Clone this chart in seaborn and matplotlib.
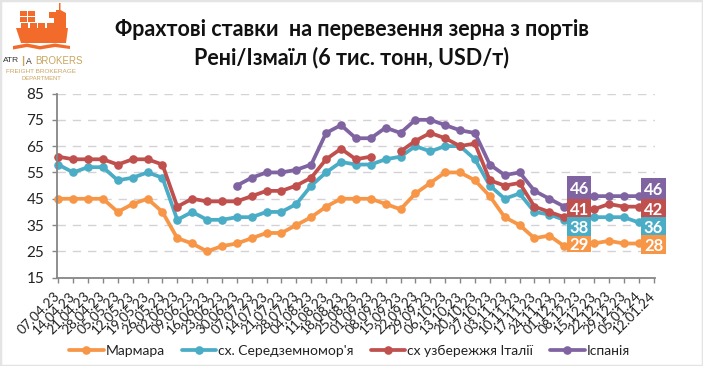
import numpy as np
import pandas as pd
import matplotlib
matplotlib.use("Agg")
import matplotlib.pyplot as plt
from matplotlib.patches import Polygon, Rectangle
from matplotlib.lines import Line2D
import seaborn as sns

dates = ["07.04.23","14.04.23","21.04.23","28.04.23","05.05.23","12.05.23","19.05.23","26.05.23",
         "02.06.23","09.06.23","16.06.23","23.06.23","30.06.23","07.07.23","14.07.23","21.07.23",
         "28.07.23","04.08.23","11.08.23","18.08.23","25.08.23","01.09.23","08.09.23","15.09.23",
         "22.09.23","29.09.23","06.10.23","13.10.23","20.10.23","27.10.23","03.11.23","10.11.23",
         "17.11.23","24.11.23","01.12.23","08.12.23","15.12.23","22.12.23","29.12.23","05.01.24","12.01.24"]
n = np.nan
marmara = [45,45,45,45,40,43,45,40,30,28,25,27,28,30,32,32,35,38,42,45,45,45,43,41,47,51,55,55,52,46,38,35,30,31,27,29,28,29,28,28,28]
seredz  = [58,55,57,57,52,53,55,53,37,40,37,37,38,38,40,40,43,50,55,59,58,58,60,61,65,63,65,65,60,50,45,47,40,39,37,38,38,38,38,36,36]
italy   = [61,60,60,60,58,60,60,58,42,45,44,44,44,46,48,48,50,53,60,64,60,61,n,63,67,70,68,65,66,52,50,51,42,40,38,41,41,43,42,42,42]
spain   = [n,n,n,n,n,n,n,n,n,n,n,n,50,53,55,55,56,58,70,73,68,68,72,70,75,75,73,71,70,58,54,55,48,45,42,46,46,46,46,46,46]
names = ["Мармара", "сх. Середземномор'я", "сх узбережжя Італії", "Іспанія"]
colors = ["#F79646", "#4BACC6", "#C0504D", "#8064A2"]
series = [marmara, seredz, italy, spain]
yticks = [15,25,35,45,55,65,75,85]
title = "Фрахтові ставки  на перевезення зерна з портів\nРені/Ізмаїл (6 тис. тонн, USD/т)"

W, H = 703, 366
sns.set_theme(style="white")
FONT = ["Lato", "Open Sans", "DejaVu Sans"]
plt.rcParams["font.family"] = FONT

rows = []
for name, vals in zip(names, series):
    v = pd.Series(vals, dtype=float)
    seg = v.isna().cumsum()
    rows.append(pd.DataFrame({"i": np.arange(len(v)), "v": v, "series": name, "seg": seg}).dropna())
df = pd.concat(rows, ignore_index=True)

fig = plt.figure(figsize=(W/100, H/100), dpi=100, facecolor="white")
def px_axes(x0, y0, x1, y1, **kw):
    return fig.add_axes([x0/W, 1-y1/H, (x1-x0)/W, (y1-y0)/H], **kw)

ax = px_axes(57.5, 93.5, 655, 277.7)
sns.lineplot(data=df, x="i", y="v", hue="series", hue_order=names, palette=colors,
             units="seg", estimator=None, marker="o", markersize=6.2, markeredgewidth=0,
             linewidth=2.7, legend=False, ax=ax, clip_on=False)
ax.set_xlim(0-0.05, 40.1)
ax.set_ylim(15, 85)
ax.set_xlabel(""); ax.set_ylabel("")
ax.set_yticks(yticks)
ax.set_xticks(range(len(dates)))
ax.set_xticklabels(dates, rotation=45, ha="right", va="center", rotation_mode="anchor", fontsize=9.8, color="#222222")
ax.tick_params(axis="x", length=3.5, width=1, color="#868686", pad=8, bottom=True)
ax.tick_params(axis="y", length=3.5, width=1, color="#868686", labelsize=11, labelcolor="#222222", pad=6, left=True)
ax.grid(True, axis="y", color="#D4D2D8", linewidth=1, linestyle=(0, (6, 5)))
ax.set_axisbelow(True)
for s in ["top", "right"]:
    ax.spines[s].set_visible(False)
for s in ["left", "bottom"]:
    ax.spines[s].set_color("#868686")
    ax.spines[s].set_linewidth(1.3)

def label(idx, vals, color, y0, y1, x_half):
    xc, _ = ax.transData.transform((idx, vals[idx]))
    inv = fig.transFigure.inverted()
    (fx0, fy1), (fx1, fy0) = inv.transform((xc-x_half, H-y0)), inv.transform((xc+x_half, H-y1))
    fig.add_artist(Rectangle((fx0, fy0), fx1-fx0, fy1-fy0, transform=fig.transFigure,
                             facecolor=color, edgecolor="none", zorder=5))
    fig.text((fx0+fx1)/2, (fy0+fy1)/2, f"{vals[idx]:.0f}", color="white", fontweight="bold",
             fontsize=12, ha="center", va="center_baseline", zorder=6)

bands_a = [(series[3], colors[3], 175.7, 199.3), (series[2], colors[2], 199.3, 217),
           (series[1], colors[1], 217, 235.7), (series[0], colors[0], 235.7, 252.3)]
bands_b = [(series[3], colors[3], 177.7, 199.3), (series[2], colors[2], 199.3, 217.3),
           (series[1], colors[1], 217.3, 235), (series[0], colors[0], 235, 254)]
for vals, c, a, b in bands_a:
    label(35, vals, c, a, b, 12)
for vals, c, a, b in bands_b:
    label(40, vals, c, a, b, 12.3)

handles = [Line2D([], [], color=c, lw=2.7, marker="o", ms=6.2, mew=0) for c in colors]
leg = fig.legend(handles, names, ncols=4, loc="center", bbox_to_anchor=(349.5/W, 1-351/H), frameon=False,
                 fontsize=10, handlelength=2.5, handletextpad=0.15, columnspacing=1.2, labelcolor="#222222",
                 borderpad=0, borderaxespad=0)

t1, t2 = title.split("\n")
fig.text(352/W, 1-30/H, t1, ha="center", va="center", fontsize=15.5, fontweight="bold", color="#111111")
fig.text(352/W, 1-58/H, t2, ha="center", va="center", fontsize=15.5, fontweight="bold", color="#111111")

lg = px_axes(0, 0, 90, 85)
lg.set_xlim(0, 90); lg.set_ylim(85, 0); lg.axis("off")
o = "#F26B2B"
gold = "#C9A45F"
lg.add_patch(Polygon([(16,28),(68,28),(66,43),(21,43)], fc=o, ec="none"))
lg.add_patch(Polygon([(13,46),(27,43.5),(40,46),(55,43.5),(70,46),(70,49),(55,47),(40,49.5),(27,47),(13,49.5)], fc=o, ec="none"))
for x0, y0 in [(20,11),(28,11),(20,17),(28,17),(21,23),(30,23),(38,23),(47,23)]:
    lg.add_patch(Rectangle((x0, y0), 7, 4.5, fc=o, ec="none"))
lg.add_patch(Polygon([(49,12),(56,12),(56,10),(59,10),(59,3),(60.5,3),(60.5,10),(66,13),(66,28),(54,28),(54,18),(49,18)], fc=o, ec="none"))
lf = ["Liberation Sans"]
lg.text(2.5, 61, "ATR", ha="left", va="center", fontsize=6, color="#333333", family=lf)
lg.text(22.3, 61, "|", ha="center", va="center", fontsize=8, color=gold, family=lf, fontweight="bold")
lg.text(25.5, 61, "A", ha="left", va="center", fontsize=6.2, color="#333333", family=lf)
lg.text(35, 61, "BROKERS", ha="left", va="center", fontsize=7, color=gold, family=lf)
lg.text(41.5, 71.5, "FREIGHT BROKERAGE", ha="center", va="center", fontsize=4.6, color=gold, family=lf)
lg.text(41.5, 79, "DEPARTMENT", ha="center", va="center", fontsize=4.2, color=gold, family=lf)

fig.add_artist(Rectangle((0, 0), 1, 1, transform=fig.transFigure, fill=False, edgecolor="#E4E4E4", linewidth=2.5, zorder=10))
fig.savefig("out.png", dpi=100, facecolor="white")
